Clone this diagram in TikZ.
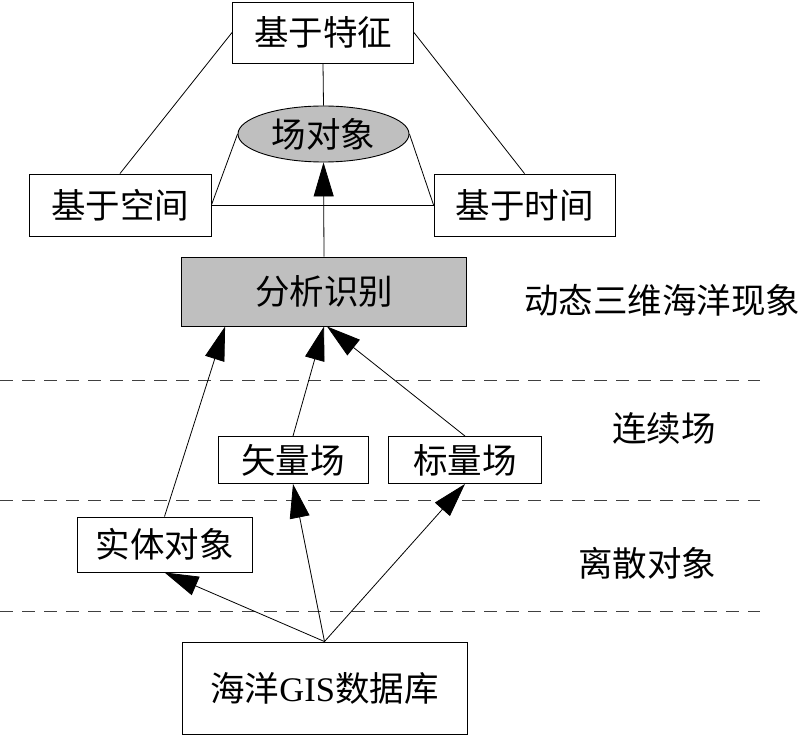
\documentclass[tikz,border=0pt]{standalone}
\usepackage{fontspec}
\setmainfont{Liberation Serif}
\newfontfamily\cjk{Noto Sans CJK SC}
\usetikzlibrary{arrows.meta,shapes.geometric,calc}
\begin{document}
\begin{tikzpicture}[x=1pt,y=-1pt,
  txt/.style={inner sep=0pt,font=\cjk\fontsize{34.5}{38}\selectfont},
  box/.style={txt,draw,line width=0.9pt},
  shade/.style={fill=black!25},
  link/.style={line width=0.8pt},
  arr/.style={line width=0.8pt,-{Triangle[length=34pt,width=20pt]}},
  sep/.style={line width=1pt,black!75,dash pattern=on 13pt off 9pt}]
\useasboundingbox (0,0) rectangle (800,735);
% nodes
\node[box,minimum width=181pt,minimum height=61pt] (tz) at (323,32.5) {基于特征};
\node[box,shade,ellipse,minimum width=171pt,minimum height=56pt] (ell) at (323.5,134) {场对象};
\node[box,minimum width=182pt,minimum height=62pt] (kj) at (120,205) {基于空间};
\node[box,minimum width=181pt,minimum height=62pt] (sj) at (524.5,205) {基于时间};
\node[box,shade,minimum width=285pt,minimum height=69pt] (fx) at (324,291.5) {分析识别};
\node[box,minimum width=150pt,minimum height=47pt] (sl) at (293,460) {矢量场};
\node[box,minimum width=153pt,minimum height=47pt] (bl) at (465,460) {标量场};
\node[box,minimum width=175pt,minimum height=55pt] (st) at (164.5,544.5) {实体对象};
\node[box,minimum width=285pt,minimum height=92pt] (db) at (324.5,688) {海洋{\rmfamily GIS}数据库};
% labels
\node[txt] (l1) at (662,300) {动态三维海洋现象};
\node[txt] (l2) at (664,428) {连续场};
\node[txt] (l3) at (647,563) {离散对象};
% dashed separators
\coordinate (d1l) at (0,380); \coordinate (d1r) at (760,380);
\coordinate (d2l) at (0,500); \coordinate (d2r) at (760,500);
\coordinate (d3l) at (0,611); \coordinate (d3r) at (760,611);
\draw[sep] (d1l) -- (d1r);
\draw[sep] (d2l) -- (d2r);
\draw[sep] (d3l) -- (d3r);
% top links
\draw[link] (tz.west) -- (kj.north);
\draw[link] (tz.east) -- (sj.north);
\draw[link] (tz.south) -- (ell.north);
\draw[link] (ell.west) -- (kj.east);
\draw[link] (ell.east) -- (sj.west);
\draw[link] (kj.east) -- (sj.west);
% arrows
\draw[arr] (fx.north) -- (ell.south);
\draw[arr] (st.north) -- ($(fx.south west)!0.154!(fx.south east)$);
\draw[arr] (sl.north) -- (fx.south);
\draw[arr] (bl.north) -- ($(fx.south)+(3,0)$);
\draw[arr] (db.north) -- (st.south);
\draw[arr] (db.north) -- (sl.south);
\draw[arr] (db.north) -- (bl.south);
\end{tikzpicture}
\end{document}
